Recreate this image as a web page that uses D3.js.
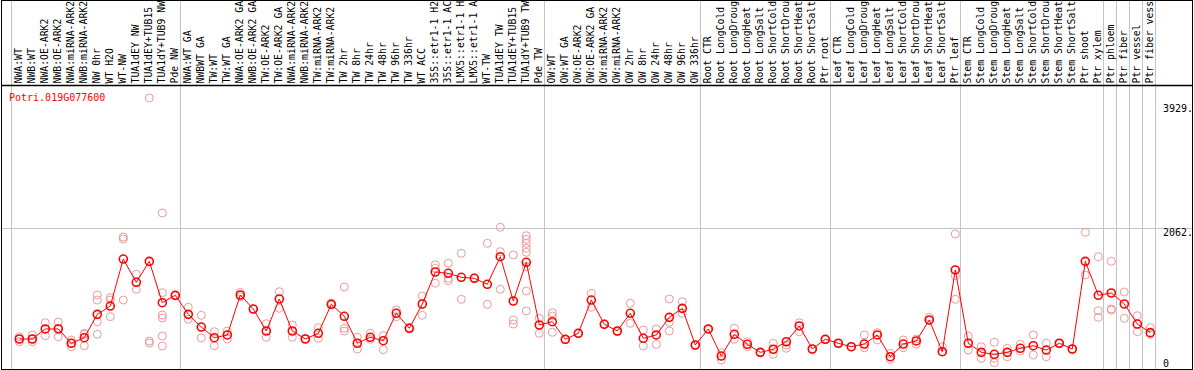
<!DOCTYPE html>
<html>
<head>
<meta charset="utf-8">
<script src="https://cdn.jsdelivr.net/npm/d3@7"></script>
<style>
body { margin: 0; background: #fff; }
svg { display: block; }
text { font-family: "DejaVu Sans Mono", monospace; font-size: 10px; }
</style>
</head>
<body>
<svg width="1194" height="370"></svg>
<script>
var svg = d3.select("svg");

var width = +svg.attr("width");
var height = +svg.attr("height");

// gene shown in this panel
var geneName = "Potri.019G077600";

// sample names, one per column
var samples = [
    "NWA:WT", "NWB:WT", "NWA:OE-ARK2", "NWB:OE-ARK2", "NWA:miRNA-ARK2", "NWB:miRNA-ARK2",
    "NW 0hr", "WT H2O", "WT-NW", "TUA1dEY NW", "TUA1dEY+TUB15", "TUA1dY+TUB9 NW", "Pde NW",
    "NWA:WT GA", "NWBWT GA", "TW:WT", "TW:WT GA", "NWA:OE-ARK2 GA", "NWB:OE-ARK2 GA",
    "TW:OE-ARK2", "TW:OE-ARK2 GA", "NWA:miRNA-ARK2", "NWB:miRNA-ARK2", "TW:miRNA-ARK2",
    "TW:miRNA-ARK2", "TW 2hr", "TW 8hr", "TW 24hr", "TW 48hr", "TW 96hr", "TW 336hr",
    "WT ACC", "35S::etr1-1 H2O", "35S::etr1-1 ACC", "LMX5::etr1-1 H2O", "LMX5::etr1-1 ACC",
    "WT-TW", "TUA1dEY TW", "TUA1dEY+TUB15", "TUA1dY+TUB9 TW", "Pde TW",
    "OW:WT", "OW:WT GA", "OW:OE-ARK2", "OW:OE-ARK2 GA", "OW:miRNA-ARK2", "OW:miRNA-ARK2",
    "OW 2hr", "OW 8hr", "OW 24hr", "OW 48hr", "OW 96hr", "OW 336hr",
    "Root CTR", "Root LongCold", "Root LongDrought", "Root LongHeat", "Root LongSalt",
    "Root ShortCold", "Root ShortDrought", "Root ShortHeat", "Root ShortSalt", "Ptr root",
    "Leaf CTR", "Leaf LongCold", "Leaf LongDrought", "Leaf LongHeat", "Leaf LongSalt",
    "Leaf ShortCold", "Leaf ShortDrought", "Leaf ShortHeat", "Leaf ShortSalt", "Ptr leaf",
    "Stem CTR", "Stem LongCold", "Stem LongDrought", "Stem LongHeat", "Stem LongSalt",
    "Stem ShortCold", "Stem ShortDrought", "Stem ShortHeat", "Stem ShortSalt", "Ptr shoot",
    "Ptr xylem", "Ptr phloem", "Ptr fiber", "Ptr vessel", "Ptr fiber vessel"
];

// mean expression per sample
var means = [
    473, 473, 617, 617, 412, 492, 827, 946, 1620, 1286, 1587, 994, 1100,
    827, 645, 492, 531, 1104, 903, 588, 1047, 588, 473, 555, 971, 799, 412, 498, 449,
    842, 627, 975, 1434, 1415, 1358, 1344, 1258, 1653, 1018, 1573, 674,
    721, 469, 555, 1032, 684, 588, 842, 483, 531, 784, 913, 387,
    617, 229, 541, 397, 282, 326, 434, 660, 330, 469,
    412, 363, 401, 531, 219, 401, 445, 746, 291, 1463,
    412, 282, 254, 282, 340, 377, 315, 412, 330, 1587, 1100,
    1133, 975, 688, 564
];

// single replicate values per sample
var replicates = [
    [506, 473, 434], [531, 473, 434], [707, 521, 617], [717, 506, 630], [459, 363, 412],
    [541, 377, 555], [1104, 1032, 721, 541], [1065, 1032, 793], [1907, 1936, 1032],
    [1401, 1186], [3929, 444, 416], [2280, 1137, 817, 774, 516, 373], [1100, 1090],
    [928, 756], [813, 488], [578, 377], [588, 473], [1142, 1080], [903, 903], [693, 498],
    [1151, 913], [674, 498], [473, 480], [635, 483], [989, 960], [1219, 627, 588],
    [498, 330], [555, 469], [521, 320], [889, 793], [641, 620], [1090, 813],
    [1539, 1487, 1272], [1558, 1344, 1309], [1702, 1042], [1344, 1350], [1845, 971],
    [2075, 1725, 1186], [1678, 746, 688], [1954, 1903, 1845, 1774, 1716, 1510, 1161, 875],
    [770, 555],
    [850, 803, 569], [469, 460], [555, 550], [1128, 928], [684, 690], [588, 580],
    [985, 698], [602, 373], [617, 397], [1047, 713, 588], [1008, 842], [387, 380],
    [617, 610], [277, 172], [627, 469], [434, 363], [282, 275], [412, 254], [387, 341],
    [707, 578], [330, 325], [469, 462],
    [412, 405], [363, 356], [531, 348], [564, 459], [268, 182], [459, 348], [473, 401],
    [784, 740], [363, 291], [1979, 1381, 1042],
    [516, 315], [363, 196], [426, 196, 133], [340, 219], [397, 301], [531, 244],
    [412, 219], [412, 405], [330, 325], [2003, 1391], [1653, 879, 784],
    [1587, 903, 889], [1147, 770], [807, 578], [635, 541]
];

// column counts after which a separator is drawn
var groupEnds = [0, 13, 41, 53, 63, 73, 84, 85, 86, 87, 88];

// right hand value labels
var yTicks = [0, 2062, 3929];
var yTickLabels = ["0", "2062.", "3929."];

// header only has room for this many characters
var maxChars = 14;

//////////// SCALES ////////////

var x = d3.scaleLinear()
    .domain([0, samples.length])
    .range([11, 11 + 13 * samples.length]);

// the point sits a little left of the column middle
function cx(i) { return x(i) + 8.3; }

var y = d3.scaleLinear()
    .domain([0, d3.max(yTicks)])
    .range([372, 98]);

//////////// GRID ////////////

svg.append("g")
    .attr("class", "groups")
    .selectAll("line")
    .data(groupEnds)
    .enter().append("line")
    .attr("x1", d => Math.round(x(d)) + 0.5)
    .attr("x2", d => Math.round(x(d)) + 0.5)
    .attr("y1", 0)
    .attr("y2", 369)
    .style("stroke", "#c4c4c4");

// only the middle value gets a grid line
svg.append("line")
    .attr("x1", 1)
    .attr("x2", 1193)
    .attr("y1", Math.round(y(yTicks[1])) + 0.5)
    .attr("y2", Math.round(y(yTicks[1])) + 0.5)
    .style("stroke", "#c4c4c4");

// frame and header rule
svg.append("rect")
    .attr("x", 1.5)
    .attr("y", 0.5)
    .attr("width", 1191)
    .attr("height", 369)
    .style("fill", "none")
    .style("stroke", "#000");

svg.append("line")
    .attr("x1", 1)
    .attr("x2", 1193)
    .attr("y1", 85.5)
    .attr("y2", 85.5)
    .style("stroke", "#000")
    .style("stroke-width", 1.5);

//////////// LABELS ////////////

svg.append("g")
    .attr("class", "samples")
    .selectAll("text")
    .data(samples)
    .enter().append("text")
    .attr("transform", (d, i) => "translate(" + (cx(i) + 2.5) + ",83.5) rotate(-90)")
    .style("fill", "#000")
    .style("font-size", "9.8px")
    .text(d => d.slice(0, maxChars));

svg.append("text")
    .attr("x", 9)
    .attr("y", 101)
    .style("fill", "#ff0000")
    .text(geneName);

svg.append("g")
    .attr("class", "values")
    .selectAll("text")
    .data(yTicks)
    .enter().append("text")
    .attr("x", 1163)
    .attr("y", d => Math.min(Math.max(y(d), 104), 359) + 7.5)
    .style("fill", "#000")
    .text((d, i) => yTickLabels[i]);

//////////// MARKS ////////////

var repPoints = [];
replicates.forEach(function (list, i) {
    list.forEach(function (v) { repPoints.push({ i: i, v: v }); });
});

svg.append("g")
    .attr("class", "reps")
    .selectAll("circle")
    .data(repPoints)
    .enter().append("circle")
    .attr("cx", d => cx(d.i))
    .attr("cy", d => y(d.v))
    .attr("r", 4)
    .style("fill", "none")
    .style("stroke", "#eb9a9a");

var line = d3.line()
    .x((d, i) => cx(i))
    .y(d => y(d));

svg.append("path")
    .datum(means)
    .attr("d", line)
    .style("fill", "none")
    .style("stroke", "#ff0000");

svg.append("g")
    .attr("class", "means")
    .selectAll("circle")
    .data(means)
    .enter().append("circle")
    .attr("cx", (d, i) => cx(i))
    .attr("cy", d => y(d))
    .attr("r", 4)
    .style("fill", "none")
    .style("stroke", "#ff0000")
    .style("stroke-width", 1.6);
</script>
</body>
</html>
